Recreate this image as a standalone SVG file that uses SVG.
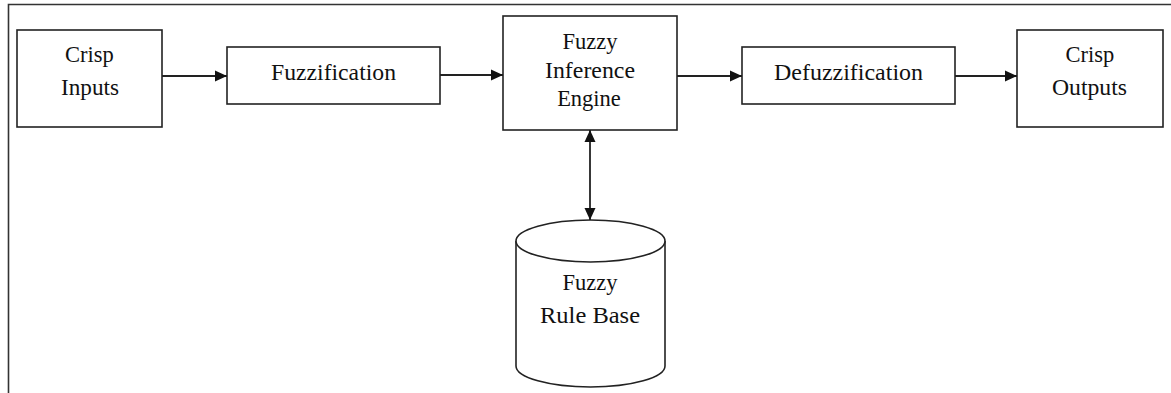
<svg xmlns="http://www.w3.org/2000/svg" width="1171" height="393" viewBox="0 0 1171 393">
<style>
.box{fill:#fff;stroke:#222;stroke-width:1.6}
.lbl{font-family:"Liberation Serif","Times New Roman",serif;font-size:22.5px;fill:#111;text-anchor:middle}
.con{stroke:#222;stroke-width:1.8;fill:none}
</style>
<defs>
<marker id="ah" viewBox="0 0 12 12" refX="12" refY="6" markerWidth="12" markerHeight="12" markerUnits="userSpaceOnUse" orient="auto-start-reverse">
<path d="M0,0.5 L12,6 L0,11.5 Z" fill="#111"/>
</marker>
</defs>
<rect width="1171" height="393" fill="#fff"/>
<path d="M8.5,393 V4.5 H1171" fill="none" stroke="#333" stroke-width="1.6"/>
<g id="crisp-inputs">
<rect class="box" x="17" y="30" width="145" height="97"/>
<text class="lbl" x="89.5" y="62">Crisp</text>
<text class="lbl" x="90" y="95" textLength="58" lengthAdjust="spacingAndGlyphs">Inputs</text>
</g>
<g id="fuzzification">
<rect class="box" x="227" y="47" width="213" height="57"/>
<text class="lbl" x="333.5" y="80" textLength="125" lengthAdjust="spacingAndGlyphs">Fuzzification</text>
</g>
<g id="inference-engine">
<rect class="box" x="503" y="16" width="174" height="114"/>
<text class="lbl" x="590" y="48.5">Fuzzy</text>
<text class="lbl" x="590" y="78" textLength="90" lengthAdjust="spacingAndGlyphs">Inference</text>
<text class="lbl" x="589" y="106">Engine</text>
</g>
<g id="defuzzification">
<rect class="box" x="742" y="47" width="213" height="57"/>
<text class="lbl" x="848.5" y="80" textLength="149" lengthAdjust="spacingAndGlyphs">Defuzzification</text>
</g>
<g id="crisp-outputs">
<rect class="box" x="1017" y="30" width="146" height="97"/>
<text class="lbl" x="1090" y="62">Crisp</text>
<text class="lbl" x="1089.5" y="95" textLength="75" lengthAdjust="spacingAndGlyphs">Outputs</text>
</g>
<g id="rule-base">
<path class="box" d="M516,241 V366 A74.5,21 0 0 0 665,366 V241"/>
<ellipse class="box" cx="590.5" cy="241" rx="74.5" ry="21"/>
<text class="lbl" x="590" y="290">Fuzzy</text>
<text class="lbl" x="590" y="323" textLength="100" lengthAdjust="spacingAndGlyphs">Rule Base</text>
</g>
<g id="connectors">
<line class="con" x1="162" y1="76" x2="227" y2="76" marker-end="url(#ah)"/>
<line class="con" x1="440" y1="75" x2="503" y2="75" marker-end="url(#ah)"/>
<line class="con" x1="677" y1="76" x2="742" y2="76" marker-end="url(#ah)"/>
<line class="con" x1="955" y1="76" x2="1017" y2="76" marker-end="url(#ah)"/>
<line class="con" x1="590" y1="130" x2="590" y2="220" marker-start="url(#ah)" marker-end="url(#ah)"/>
</g>
</svg>
